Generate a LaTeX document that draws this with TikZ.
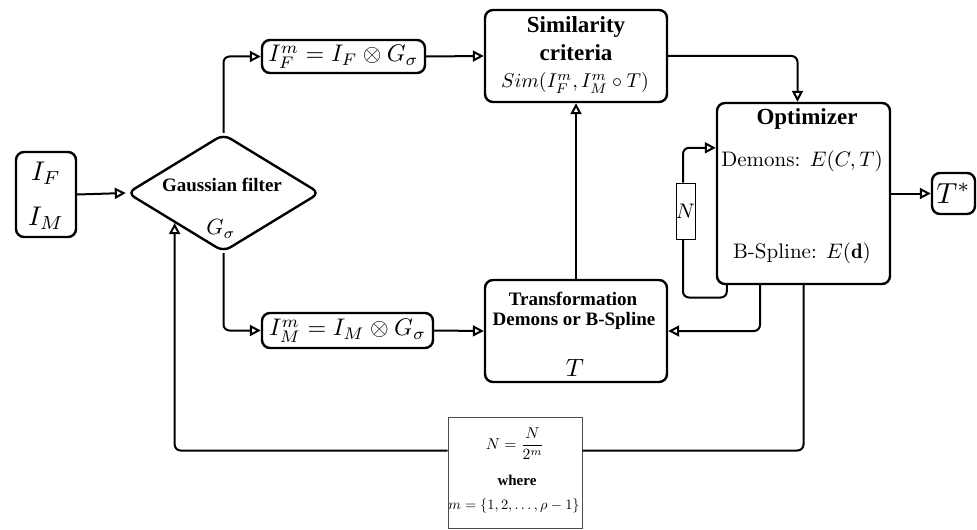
\documentclass[tikz,border=0pt]{standalone}
\usepackage{amsmath}
\usepackage{fontspec}
\newfontfamily\tbf{Liberation Serif}
\usetikzlibrary{shapes.geometric,arrows.meta,calc}
\begin{document}
\begin{tikzpicture}[x=0.5pt,y=-0.5pt,
  box/.style={draw, line width=1.2pt, rounded corners=4pt, inner sep=0pt},
  thinbox/.style={draw, line width=0.5pt, inner sep=0pt},
  conn/.style={line width=1pt, rounded corners=3pt},
  arr/.style={conn,-{Triangle[open,length=5.5pt,width=5.5pt]}},
  lbl/.style={inner sep=0pt, anchor=center},
  ttl/.style={lbl, font=\tbf\bfseries, scale=1.15},
  sttl/.style={lbl, font=\tbf\bfseries, scale=0.95, align=center}]
\useasboundingbox (0,0) rectangle (977,529);

% boxes
\node[box, minimum width=30pt, minimum height=42.5pt] (inp) at (46,194.5) {};
\node[diamond, draw, line width=1.2pt, rounded corners=4pt, inner sep=0pt,
      minimum width=96.5pt, minimum height=59pt] (gf) at (223.5,193) {};
\node[box, minimum width=81.5pt, minimum height=16.5pt] (ifm) at (343.5,56.5) {};
\node[box, minimum width=85.5pt, minimum height=17.5pt] (imm) at (347.5,330.5) {};
\node[box, minimum width=91pt, minimum height=46pt] (sim) at (576,56) {};
\node[box, minimum width=91pt, minimum height=51pt] (tr) at (576,331) {};
\node[box, minimum width=86.5pt, minimum height=90.5pt] (opt) at (803.5,193.5) {};
\node[box, minimum width=21.5pt, minimum height=20.5pt] (ts) at (953.5,193.5) {};
\node[thinbox, minimum width=9.5pt, minimum height=28pt] (nb) at (685.5,211) {};
\node[thinbox, draw=black!70, minimum width=67pt, minimum height=55.5pt] (bb) at (515,472.5) {};

% texts
\node[lbl, scale=1.35] (tif) at (46,173) {$I_F$};
\node[lbl, scale=1.35] (tim) at (46,218) {$I_M$};
\node[sttl] (tgf) at (222,185) {Gaussian filter};
\node[lbl, scale=1.1] (tgs) at (221,229) {$G_\sigma$};
\node[lbl, scale=1.2] (tifm) at (343.5,57) {$I_F^m = I_F \otimes G_\sigma$};
\node[lbl, scale=1.2] (timm) at (347.5,331) {$I_M^m = I_M \otimes G_\sigma$};
\node[ttl] (ts1) at (576,27) {Similarity};
\node[ttl] (ts2) at (576,53) {criteria};
\node[lbl, scale=1.0] (ts3) at (575,83) {$Sim(I_F^m, I_M^m \circ T)$};
\node[sttl] (tt1) at (573,299) {Transformation};
\node[sttl] (tt2) at (574,321) {Demons or B-Spline};
\node[lbl, scale=1.25] (tt3) at (575,368) {$T$};
\node[ttl] (to1) at (807,119) {Optimizer};
\node[lbl, scale=1.05] (to2) at (802,161) {Demons: $E(C,T)$};
\node[lbl, scale=1.05] (to3) at (802,253) {B-Spline: $E(\mathbf{d})$};
\node[lbl, scale=1.45] (tts) at (953.5,193.5) {$T^*$};
\node[lbl, scale=1.05] (tn) at (685.5,211) {$N$};
\node[lbl, scale=0.78] (tb1) at (515,444) {$N=\dfrac{N}{2^m}$};
\node[lbl, font=\tbf\bfseries, scale=0.75] (tb2) at (517,480) {where};
\node[lbl, scale=0.72] (tb3) at (514,506) {$m=\{1,2,\ldots,\rho-1\}$};

% connectors
\draw[arr] (inp.east) -- (gf.west);
\draw[arr] (gf.north) |- (ifm.west);
\draw[arr] (gf.south) |- (imm.west);
\draw[arr] (ifm.east) -- (sim.west);
\draw[arr] (imm.east) -- (tr.west);
\draw[arr] (tr.north) -- (sim.south);
\draw[arr] (sim.east) -| ($(opt.north)+(-6,0)$);
\draw[arr] (opt.east) -- (ts.west);
\draw[conn] ($(opt.south west)+(11,0)$) |- ($(nb.south)+(-2.5,58)$) -- ($(nb.south)+(-2.5,0)$);
\draw[arr] ($(nb.north)+(-2.5,0)$) |- ($(opt.north west)+(0,46)$);
\draw[arr] ($(opt.south)+(-43.5,0)$) |- (tr.east);
\draw[conn] (opt.south) |- ($(bb.north east)+(0,34)$);
\draw[arr] ($(bb.north west)+(0,34)$) -| (gf.south west);
\end{tikzpicture}
\end{document}
